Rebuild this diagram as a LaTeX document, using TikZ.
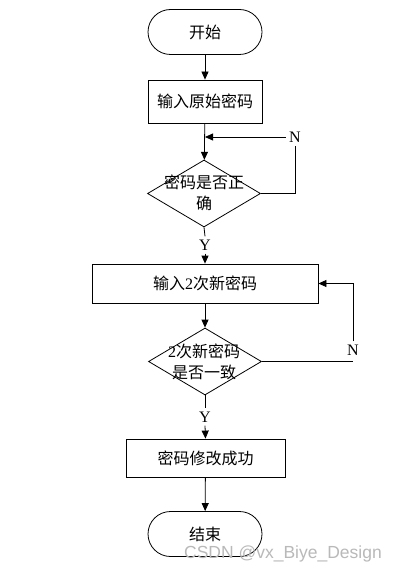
\documentclass[tikz,border=0pt]{standalone}
\usepackage{fontspec}
\setmainfont{Liberation Serif}
\newfontfamily\cjk{Noto Sans CJK SC}
\newfontfamily\wmfont{Liberation Sans}
\usetikzlibrary{shapes.geometric,arrows.meta}
\begin{document}
\begin{tikzpicture}[x=1bp,y=-1bp, line width=0.8bp,
  every node/.style={font=\cjk\fontsize{16bp}{21bp}\selectfont},
  term/.style={draw, rounded corners=22.5bp, minimum width=114bp, minimum height=45bp, inner sep=0},
  proc/.style={draw, inner sep=0},
  dec/.style={draw, diamond, minimum width=113bp, minimum height=67bp, inner sep=0},
  dtext/.style={align=center, inner sep=0},
  lbl/.style={font=\rmfamily\fontsize{16bp}{16bp}\selectfont, inner sep=3bp},
  arr/.style={-{Triangle[length=8bp,width=7bp]}}]
\useasboundingbox (0,0) rectangle (401,574);
\fill[white] (0,0) rectangle (401,574);
% nodes
\node[term] (start) at (205,32) {开始};
\node[proc, minimum width=114bp, minimum height=43bp] (b1) at (205,101.5) {输入原始密码};
\node[dec] (d1) at (204,193.5) {};
\node[dtext] (t1) at (204,193) {密码是否正\\确};
\node[proc, minimum width=226bp, minimum height=39bp] (b2) at (205,283.5) {输入{\rmfamily 2}次新密码};
\node[dec] (d2) at (205,361.5) {};
\node[dtext] (t2) at (204,361.5) {{\rmfamily 2}次新密码\\是否一致};
\node[proc, minimum width=159bp, minimum height=38bp] (b3) at (205.5,458) {密码修改成功};
\node[term] (end) at (205,534) {结束};
\node[lbl] (n1) at (295,137) {N};
\node[lbl] (y1) at (205,245) {Y};
\node[lbl] (n2) at (353,350) {N};
\node[lbl] (y2) at (205,417) {Y};
\coordinate (j1) at (205,137);
\coordinate (c2) at (353,361.5);
% connectors
\draw[arr] (start) -- (b1);
\draw[arr] (b1) -- (d1);
\draw (d1.east) -| (n1.south);
\draw[arr] (n1.west) -- (j1);
\draw (d1.south) -- (y1.north);
\draw[arr] (y1.south) -- (b2.north);
\draw[arr] (b2) -- (d2);
\draw (d2.east) -- (c2);
\draw[arr] (n2.north) |- (b2.east);
\draw (d2.south) -- (y2.north);
\draw[arr] (y2.south) -- (b3.north);
\draw[arr] (b3) -- (end);
% watermark
\node[font=\wmfont\fontsize{17.5bp}{17.5bp}\selectfont, text=gray!55, inner sep=0] (wm) at (283,554) {CSDN @vx\_Biye\_Design};
\end{tikzpicture}
\end{document}
